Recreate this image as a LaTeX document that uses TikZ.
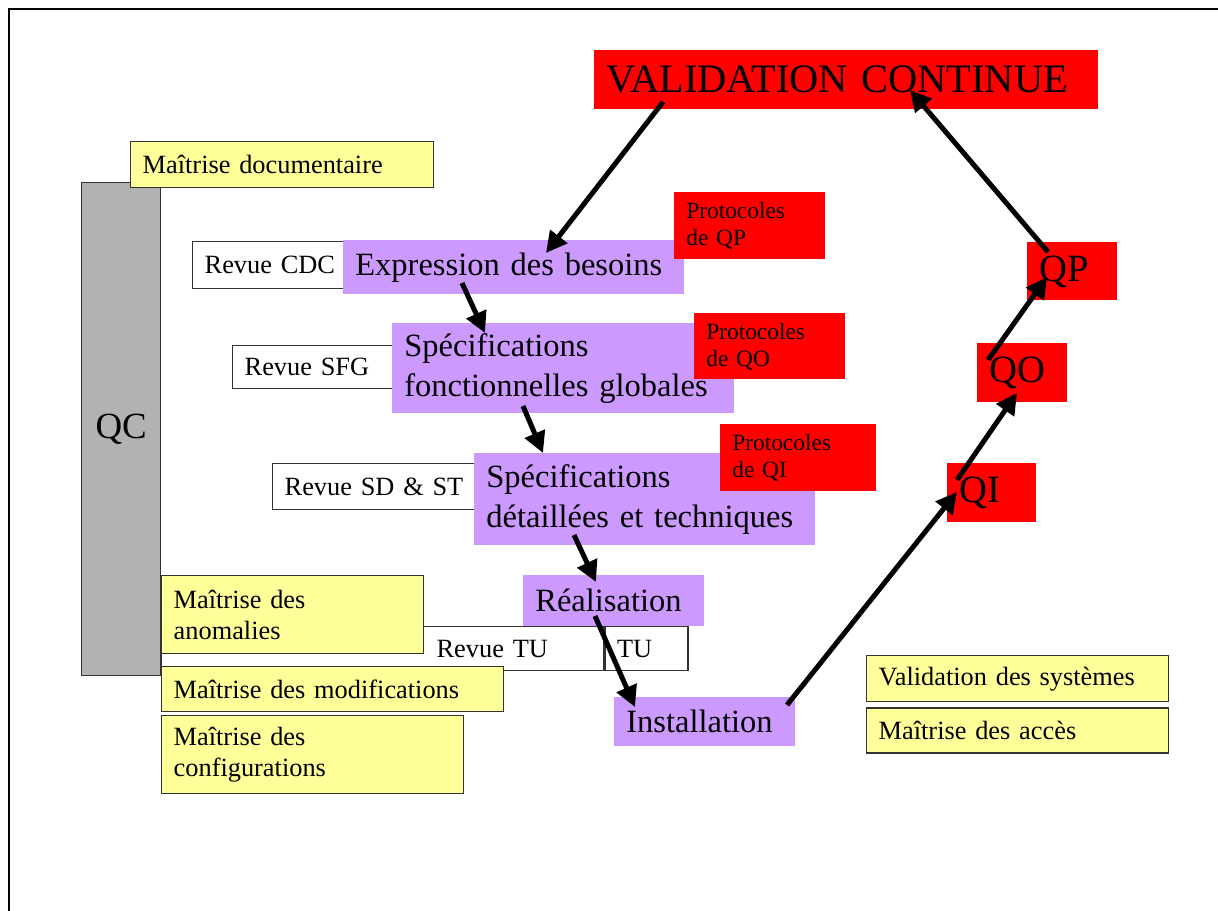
\documentclass[tikz,border=0pt]{standalone}
\usepackage{fontspec}
\setmainfont{Liberation Serif}
\usetikzlibrary{arrows.meta,positioning}
\definecolor{lilac}{HTML}{CC99FF}
\definecolor{paleyellow}{HTML}{FFFF99}
\definecolor{qcgray}{HTML}{B2B2B2}

\begin{document}
\begin{tikzpicture}[
    x=0.02cm, y=-0.02cm,
    cell/.style={anchor=north west, inner xsep=0.24cm, inner ysep=0pt, align=left},
    yellowbox/.style={cell, draw=black!80, line width=0.8pt, fill=paleyellow, font=\fontsize{15}{17.6}\selectfont},
    review/.style={cell, draw=black!80, line width=0.8pt, fill=white, font=\fontsize{15}{17.6}\selectfont},
    phase/.style={cell, fill=lilac, font=\fontsize{18.5}{22.8}\selectfont},
    protocol/.style={cell, fill=red, font=\fontsize{13.3}{15.4}\selectfont},
    qual/.style={cell, fill=red, font=\fontsize{22}{26}\selectfont},
    link/.style={-{Triangle[length=0.42cm, width=0.42cm]}, line width=0.1cm}
]
\useasboundingbox (0,0) rectangle (1218,911);
\draw[line width=0.05cm] (9,911) -- (9,9) -- (1218,9);

% quality control column
\node[cell, draw=black!80, line width=0.8pt, fill=qcgray, text width=1.10cm, align=center, minimum height=9.86cm, font=\fontsize{21}{25}\selectfont] (qc) at (81,182) {QC};
\node[yellowbox, text width=5.58cm, minimum height=0.92cm] (mdoc) at (130,141) {Maîtrise documentaire};

\node[qual, text width=9.60cm, minimum height=1.18cm, font=\fontsize{23}{27}\selectfont] (vc) at (594,50) {VALIDATION CONTINUE};

% descending branch
\node[review, text width=2.54cm, minimum height=0.94cm] (rcdc) at (192,241) {Revue~CDC};
\node[phase, text width=6.34cm, minimum height=1.08cm] (exp) at (343,240) {Expression des besoins};
\node[protocol, text width=2.54cm, minimum height=1.34cm] (pqp) at (674,192) {Protocoles\\de QP};

\node[review, text width=2.72cm, minimum height=0.86cm] (rsfg) at (232,345) {Revue SFG};
\node[phase, text width=6.36cm, minimum height=1.80cm] (sfg) at (392,323) {Spécifications\\fonctionnelles globales};
\node[protocol, text width=2.54cm, minimum height=1.32cm] (pqo) at (694,313) {Protocoles\\de QO};

\node[review, text width=3.56cm, minimum height=0.92cm] (rsd) at (272,463) {Revue~SD~\&~ST};
\node[phase, text width=6.34cm, minimum height=1.84cm] (sdt) at (474,453) {Spécifications\\détaillées et techniques};
\node[protocol, text width=2.64cm, minimum height=1.34cm] (pqi) at (720,424) {Protocoles\\de QI};

\node[review, text width=8.36cm, minimum height=0.88cm] (revtu) at (161,626) {\hspace*{5.26cm}Revue TU};
\node[review, right=0pt of revtu.north east, anchor=north west, text width=1.18cm, minimum height=0.88cm] (tu) {TU};
\node[phase, text width=3.14cm, minimum height=1.02cm] (real) at (523,575) {Réalisation};

\node[yellowbox, text width=4.76cm, minimum height=1.56cm] (manom) at (161,575) {Maîtrise des\\anomalies};
\node[yellowbox, text width=6.36cm, minimum height=0.90cm] (mmod) at (161,666) {Maîtrise des modifications};
\node[yellowbox, text width=5.56cm, minimum height=1.56cm] (mconf) at (161,715) {Maîtrise des\\configurations};

\node[phase, text width=3.14cm, minimum height=0.98cm] (inst) at (614,697) {Installation};

% ascending branch
\node[qual, text width=1.32cm, minimum height=1.16cm] (qp) at (1027,242) {QP};
\node[qual, text width=1.32cm, minimum height=1.18cm] (qo) at (977,343) {QO};
\node[qual, text width=1.30cm, minimum height=1.18cm] (qi) at (947,463) {QI};

\node[yellowbox, text width=5.56cm, minimum height=0.92cm] (vsys) at (866,655) {Validation des systèmes};
\node[yellowbox, below=0.1cm of vsys.south west, anchor=north west, text width=5.56cm, minimum height=0.90cm] (macc) {Maîtrise des accès};

% cycle
\draw[link] ([shift={(69,52)}]vc.north west) -- ([shift={(203,13)}]exp.north west);
\draw[link] ([shift={(119,43)}]exp.north west) -- ([shift={(93,10)}]sfg.north west);
\draw[link] ([shift={(131,83)}]sfg.north west) -- ([shift={(69,0)}]sdt.north west);
\draw[link] ([shift={(100,82)}]sdt.north west) -- ([shift={(73,7)}]real.north west);
\draw[link] ([shift={(72,41)}]real.north west) -- ([shift={(21,10)}]inst.north west);
\draw[link] ([shift={(173,8)}]inst.north west) -- ([shift={(10,29)}]qi.north west);
\draw[link] ([shift={(10,17)}]qi.north west) -- ([shift={(40,50)}]qo.north west);
\draw[link] ([shift={(11,17)}]qo.north west) -- ([shift={(20,35)}]qp.north west);
\draw[link] ([shift={(21,10)}]qp.north west) -- ([shift={(316,40)}]vc.north west);
\end{tikzpicture}
\end{document}
